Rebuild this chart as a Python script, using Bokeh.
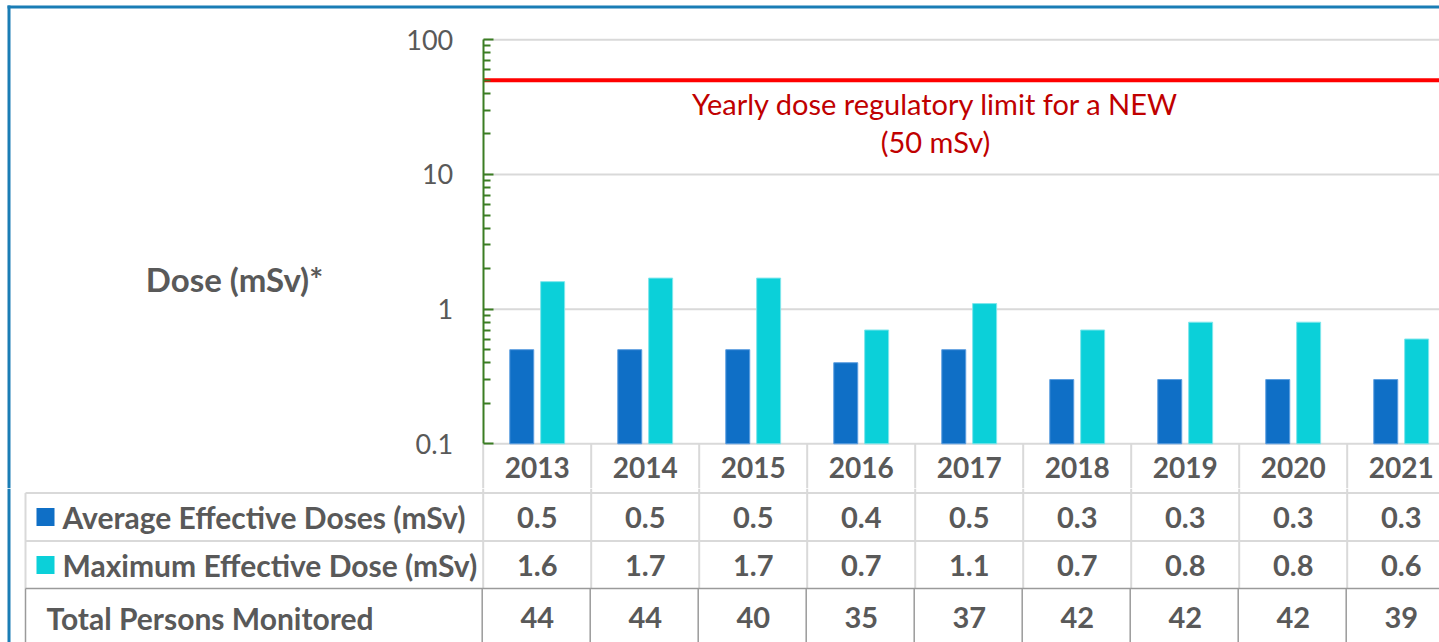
from bokeh.plotting import figure
from bokeh.models import Range1d, LogAxis, FixedTicker, NumeralTickFormatter, ColumnDataSource
from bokeh.layouts import column
from bokeh.transform import dodge
from bokeh.embed import file_html
from bokeh.resources import INLINE
from bokeh.core.properties import value

# ---------------- data ----------------
years = ["2013", "2014", "2015", "2016", "2017", "2018", "2019", "2020", "2021"]
avg_dose = [0.5, 0.5, 0.5, 0.4, 0.5, 0.3, 0.3, 0.3, 0.3]
max_dose = [1.6, 1.7, 1.7, 0.7, 1.1, 0.7, 0.8, 0.8, 0.6]
total_persons = [44, 44, 40, 35, 37, 42, 42, 42, 39]
axis_ticks = [0.1, 1, 10, 100]
limit_value = 50
limit_text = ["Yearly dose regulatory limit for a NEW", "(50 mSv)"]
row_labels = ["Average Effective Doses (mSv)", "Maximum Effective Dose (mSv)", "Total Persons Monitored"]
y_title = "Dose (mSv)*"

# ---------------- styling / geometry ----------------
FONT = "Lato"
GRAY_TXT = "#595959"
GRID = "#d9d9d9"
DARK = "#9a9a9a"
GREEN = "#3b7d23"
BORDER = "#1a7db5"
C_AVG = "#0f6fc6"
C_MAX = "#0bd0d9"

W = 1439
COL = 108.0            # px per category column
AX = 482.7             # px of the value axis
xs = -AX / COL
xe = (W - AX) / COL
D = 134.67             # px per decade
P100 = 39.3            # px of y=100
H1 = 488
H2 = 642 - H1


def ly(py):
    return 10 ** (2 - (py - P100) / D)


def dx(px):
    return (px - AX) / COL


n = len(years)
centers = [i + 0.5 for i in range(n)]
bounds_x = list(range(n + 1))

# ---------------- figure 1: bars + year row ----------------
p = figure(width=W, height=H1, x_range=Range1d(xs, xe), y_range=Range1d(ly(H1), ly(0)),
           y_axis_type="log", x_axis_location=None, y_axis_location=None,
           output_backend="svg", toolbar_location=None, min_border=0,
           outline_line_color=None, background_fill_color="white", border_fill_color="white")
p.grid.visible = False

minors = [m * 10 ** e for e in (-1, 0, 1) for m in range(2, 10)]
yax = LogAxis(fixed_location=0, bounds=(0.1, 100),
              ticker=FixedTicker(ticks=axis_ticks, minor_ticks=minors),
              formatter=NumeralTickFormatter(format="0.[0]"))
yax.axis_line_color = GREEN
yax.axis_line_width = 2
yax.major_tick_line_color = GREEN
yax.major_tick_line_width = 2
yax.minor_tick_line_color = GREEN
yax.minor_tick_line_width = 2
yax.major_tick_in = 10
yax.major_tick_out = 0
yax.minor_tick_in = 7
yax.minor_tick_out = 0
yax.major_label_text_font = FONT
yax.major_label_text_font_size = "27px"
yax.major_label_text_color = GRAY_TXT
yax.major_label_standoff = 30
p.add_layout(yax, "left")

# grid lines
p.segment(x0=0, x1=xe, y0=axis_ticks[1:], y1=axis_ticks[1:], line_color=GRID, line_width=2)
# bottom line and year-row dividers
p.segment(x0=0, x1=xe, y0=axis_ticks[0], y1=axis_ticks[0], line_color=GRID, line_width=2)
p.segment(x0=bounds_x, x1=bounds_x, y0=axis_ticks[0], y1=ly(H1), line_color=GRID, line_width=2)

src = ColumnDataSource(dict(x=centers, avg=avg_dose, mx=max_dose, year=years))
p.vbar(x=dodge("x", -0.143), width=0.222, bottom=axis_ticks[0], top="avg", source=src,
       fill_color=C_AVG, line_color="#5c9ee0", line_width=1)
p.vbar(x=dodge("x", 0.143), width=0.222, bottom=axis_ticks[0], top="mx", source=src,
       fill_color=C_MAX, line_color="#7fe6ec", line_width=1)

# year labels (first table row)
p.text(x="x", y=ly(467), text="year", source=src, text_align="center", text_baseline="middle",
       text_font=value(FONT), text_font_size="28px", text_font_style="bold", text_color=GRAY_TXT)

# limit line
p.segment(x0=0, x1=xe, y0=limit_value, y1=limit_value, line_color="#ff0000", line_width=4)
p.text(x=[dx(935)] * 2, y=[ly(103), ly(141)], text=limit_text,
       text_align="center", text_baseline="middle", text_font=value(FONT),
       text_font_size="29px", text_color="#c00000")

p.text(x=[dx(234)], y=[ly(278)], text=[y_title], text_align="center", text_baseline="middle",
       text_font=value(FONT), text_font_size="33px", text_font_style="bold", text_color=GRAY_TXT)

# frame border (left & top)
p.quad(left=dx(7), right=dx(10), bottom=ly(H1), top=ly(5), fill_color=BORDER, line_color=None)
p.quad(left=dx(7), right=xe, bottom=ly(8), top=ly(5), fill_color=BORDER, line_color=None)

# ---------------- figure 2: data table ----------------
t = figure(width=W, height=H2, x_range=Range1d(xs, xe), y_range=Range1d(642, H1),
           x_axis_location=None, y_axis_location=None,
           output_backend="svg", toolbar_location=None, min_border=0,
           outline_line_color=None, background_fill_color="white", border_fill_color="white")
t.grid.visible = False

R1, R2, R3 = 492.5, 540.5, 588.0
yc_avg, yc_max, yc_tot = 516.5, 564.5, 617
xl = dx(25)

t.quad(left=dx(7), right=dx(10), bottom=642, top=H1, fill_color=BORDER, line_color=None)
t.segment(x0=bounds_x, x1=bounds_x, y0=H1, y1=R1, line_color=GRID, line_width=2)
t.segment(x0=[xl] * 2, x1=[xe] * 2, y0=[R1, R2], y1=[R1, R2], line_color=GRID, line_width=2)
vx = [xl] + bounds_x
t.segment(x0=vx, x1=vx, y0=R1, y1=R3, line_color=GRID, line_width=2)
t.segment(x0=xl, x1=xe, y0=R3, y1=R3, line_color=DARK, line_width=1.5)
vx2 = [xl] + [b - 1 / COL for b in bounds_x]
t.segment(x0=vx2, x1=vx2, y0=R3, y1=642, line_color=DARK, line_width=1.5)

tsrc = ColumnDataSource(dict(
    x=centers,
    avg=[str(v) for v in avg_dose],
    mx=[str(v) for v in max_dose],
    tot=[str(v) for v in total_persons]))
common = dict(text_align="center", text_baseline="middle", text_font=value(FONT),
              text_font_size="29px", text_font_style="bold", text_color=GRAY_TXT, source=tsrc)
t.text(x="x", y=yc_avg, text="avg", **common)
t.text(x="x", y=yc_max, text="mx", **common)
t.text(x="x", y=yc_tot, text="tot", **common)

t.rect(x=[dx(45)] * 2, y=[yc_avg, yc_max], width=18 / COL, height=18,
       fill_color=[C_AVG, C_MAX], line_color=None)
t.text(x=[dx(62), dx(62), dx(46)], y=[yc_avg, yc_max, yc_tot], text=row_labels,
       text_align="left", text_baseline="middle", text_font=value(FONT),
       text_font_size="30px", text_font_style="bold", text_color=GRAY_TXT)

layout = column(p, t, spacing=0)
open("out.html", "w").write(file_html(layout, INLINE))
